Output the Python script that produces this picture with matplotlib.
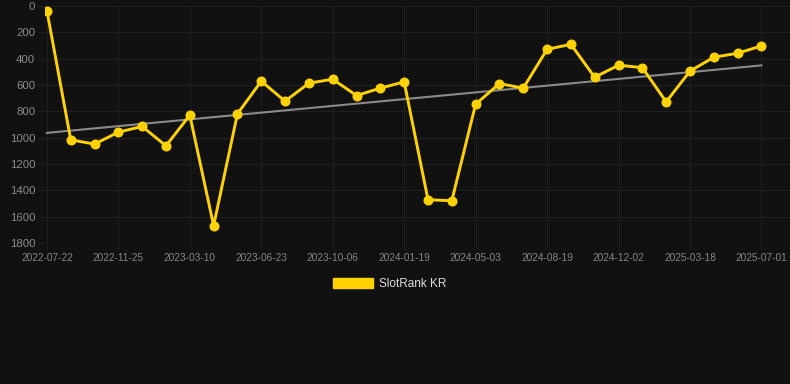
import numpy as np
import matplotlib
matplotlib.use("Agg")
import matplotlib.pyplot as plt
from matplotlib.patches import Patch

plt.rcParams['font.family'] = ['Liberation Sans', 'DejaVu Sans']

# rank values (lower is better), one point per period
ranks = [35, 1016, 1049, 958, 915, 1062, 829, 1668, 819, 571,
         723, 586, 556, 680, 624, 576, 1471, 1479, 746, 589,
         624, 329, 291, 541, 450, 468, 728, 495, 389, 359, 303]
tick_labels = ['2022-07-22', '2022-11-25', '2023-03-10', '2023-06-23',
               '2023-10-06', '2024-01-19', '2024-05-03', '2024-08-19',
               '2024-12-02', '2025-03-18', '2025-07-01']
y_ticks = [0, 200, 400, 600, 800, 1000, 1200, 1400, 1600, 1800]
series_name = 'SlotRank KR'

bg = '#111111'
grid_col = '#202020'
yellow = '#FFD200'

x = np.arange(len(ranks))
coef = np.polyfit(x, ranks, 1)
trend = np.polyval(coef, x)

fig = plt.figure(figsize=(7.9, 3.84), dpi=100, facecolor=bg)
ax = fig.add_axes([45 / 790, 1 - 243 / 384, 745 / 790, 237 / 384])
ax.set_facecolor(bg)

ax.plot(x, trend, color='#8a8a8a', lw=1.5, zorder=2)
ax.plot(x, ranks, color=yellow, lw=2.1, marker='o', ms=6.2,
        markerfacecolor=yellow, markeredgecolor=yellow, zorder=3)

ax.set_ylim(1800, 0)
ax.set_xlim(-0.08, 31.2)
ax.set_yticks(y_ticks)
ax.set_xticks(x[::3])
ax.set_xticklabels(tick_labels)

ax.grid(True, color=grid_col, lw=0.8)
ax.set_axisbelow(True)
for s in ax.spines.values():
    s.set_visible(False)

ax.tick_params(axis='y', colors=grid_col, labelcolor='#8c8c8c',
               labelsize=8.2, length=5, width=0.8, pad=2)
ax.tick_params(axis='x', colors=grid_col, labelcolor='#858585',
               labelsize=7.3, length=4, width=0.8, pad=3)

handle = Patch(facecolor=yellow, edgecolor=yellow)
fig.legend([handle], [series_name], loc='center', bbox_to_anchor=(390 / 790, 1 - 284 / 384),
           frameon=False, fontsize=8.5, labelcolor='#dddddd',
           handlelength=3.4, handleheight=0.95, handletextpad=0.5)

fig.savefig('out.png', dpi=100, facecolor=bg)
